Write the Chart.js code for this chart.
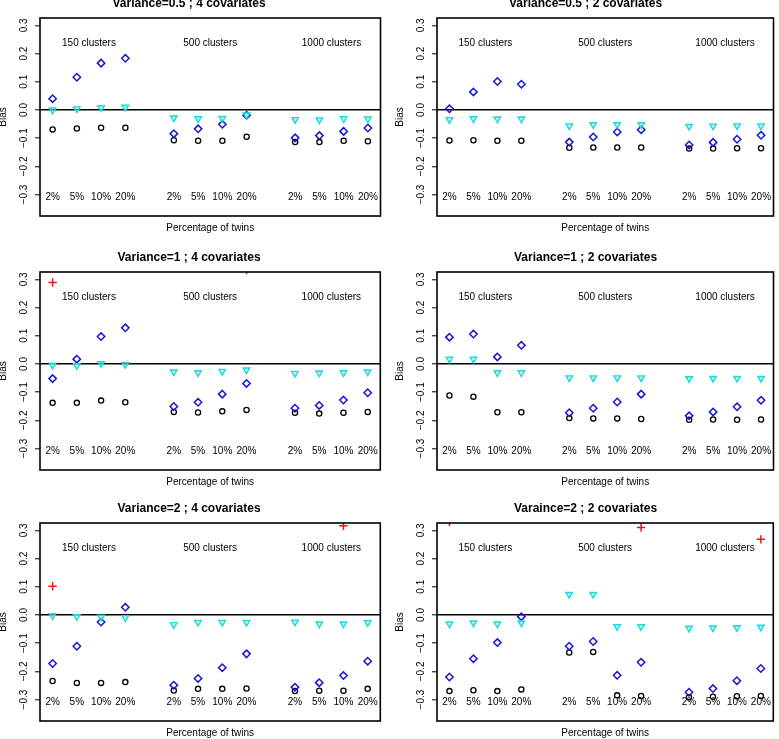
<!DOCTYPE html>
<html>
<head>
<meta charset="utf-8">
<script src="https://cdn.jsdelivr.net/npm/chart.js@4.4.1/dist/chart.umd.min.js"></script>
<style>
  html, body { margin: 0; padding: 0; background: #fff; overflow: hidden; }
  body { width: 779px; height: 739px; position: relative; }
  .panel { position: absolute; }
</style>
</head>
<body>
<div id="wrap"></div>
<script>
// x positions: 3 groups of 4 (150 / 500 / 1000 clusters)
var xPos = [1, 2, 3, 4, 6, 7, 8, 9, 11, 12, 13, 14];
var twinLabels = ['2%', '5%', '10%', '20%', '2%', '5%', '10%', '20%', '2%', '5%', '10%', '20%'];
var clusterLabels = ['150 clusters', '500 clusters', '1000 clusters'];
var clusterX = [2.5, 7.5, 12.5];
var yTickValues = [-0.3, -0.2, -0.1, 0, 0.1, 0.2, 0.3];

var panelTitles = [
    'Variance=0.5 ; 4 covariates', 'Variance=0.5 ; 2 covariates',
    'Variance=1 ; 4 covariates', 'Variance=1 ; 2 covariates',
    'Variance=2 ; 4 covariates', 'Varaince=2 ; 2 covariates'
];

// Variance=0.5 ; 4 covariates
var circlesA = [-0.069, -0.066, -0.063, -0.063, -0.107, -0.109, -0.109, -0.095, -0.114, -0.114, -0.109, -0.111];
var diamondsA = [0.040, 0.116, 0.166, 0.183, -0.084, -0.067, -0.051, -0.019, -0.099, -0.091, -0.076, -0.064];
var trianglesA = [0.000, 0.004, 0.008, 0.010, -0.028, -0.031, -0.030, -0.017, -0.034, -0.035, -0.031, -0.032];
var crossesA = [null, null, null, null, null, null, null, null, null, null, null, null];

// Variance=0.5 ; 2 covariates
var circlesB = [-0.108, -0.107, -0.109, -0.109, -0.134, -0.133, -0.133, -0.133, -0.137, -0.137, -0.136, -0.136];
var diamondsB = [0.004, 0.064, 0.101, 0.091, -0.114, -0.096, -0.078, -0.070, -0.124, -0.115, -0.104, -0.090];
var trianglesB = [-0.034, -0.031, -0.032, -0.032, -0.056, -0.052, -0.052, -0.052, -0.058, -0.057, -0.056, -0.056];
var crossesB = [null, null, null, null, null, null, null, null, null, null, null, null];

// Variance=1 ; 4 covariates
var circlesC = [-0.138, -0.138, -0.130, -0.136, -0.170, -0.172, -0.168, -0.163, -0.173, -0.176, -0.173, -0.170];
var diamondsC = [-0.052, 0.017, 0.097, 0.128, -0.151, -0.136, -0.107, -0.069, -0.157, -0.147, -0.128, -0.102];
var trianglesC = [-0.004, -0.006, 0.001, -0.001, -0.028, -0.031, -0.026, -0.021, -0.033, -0.032, -0.031, -0.028];
var crossesC = [0.289, null, null, null, null, null, null, 0.333, null, null, null, null];

// Variance=1 ; 2 covariates
var circlesD = [-0.112, -0.116, -0.171, -0.171, -0.192, -0.193, -0.193, -0.195, -0.198, -0.197, -0.198, -0.197];
var diamondsD = [0.095, 0.106, 0.025, 0.066, -0.173, -0.157, -0.135, -0.107, -0.184, -0.170, -0.152, -0.129];
var trianglesD = [0.017, 0.017, -0.031, -0.031, -0.049, -0.049, -0.049, -0.049, -0.052, -0.051, -0.051, -0.051];
var crossesD = [null, null, null, null, null, null, null, null, null, null, null, null];

// Variance=2 ; 4 covariates
var circlesE = [-0.234, -0.241, -0.241, -0.238, -0.268, -0.262, -0.262, -0.261, -0.270, -0.269, -0.269, -0.262];
var diamondsE = [-0.172, -0.111, -0.025, 0.027, -0.249, -0.225, -0.187, -0.138, -0.256, -0.240, -0.215, -0.164];
var trianglesE = [-0.002, -0.006, -0.008, -0.009, -0.034, -0.026, -0.026, -0.026, -0.025, -0.032, -0.032, -0.027];
var crossesE = [0.102, null, null, null, null, null, null, null, null, null, 0.316, null];

// Varaince=2 ; 2 covariates
var circlesF = [-0.270, -0.267, -0.270, -0.264, -0.133, -0.131, -0.285, -0.287, -0.292, -0.290, -0.288, -0.287];
var diamondsF = [-0.220, -0.155, -0.098, -0.006, -0.111, -0.094, -0.214, -0.168, -0.274, -0.261, -0.233, -0.190];
var trianglesF = [-0.032, -0.028, -0.032, -0.028, 0.073, 0.073, -0.041, -0.041, -0.047, -0.046, -0.045, -0.043];
var crossesF = [0.330, null, null, null, null, null, null, 0.310, null, null, null, 0.268];

var panelSeries = [
    [circlesA, diamondsA, trianglesA, crossesA],
    [circlesB, diamondsB, trianglesB, crossesB],
    [circlesC, diamondsC, trianglesC, crossesC],
    [circlesD, diamondsD, trianglesD, crossesD],
    [circlesE, diamondsE, trianglesE, crossesE],
    [circlesF, diamondsF, trianglesF, crossesF]
];

var FONT = "'Liberation Sans', Arial, Helvetica, sans-serif";

function toPoints(arr) {
    var pts = [];
    for (var i = 0; i < arr.length; i++) {
        if (arr[i] !== null) pts.push({x: xPos[i], y: arr[i]});
    }
    return pts;
}

function fmtTick(v) {
    var s = Math.abs(v).toFixed(1);
    return v < -1e-9 ? '\u2212' + s : s;
}

// box round the plot region + labels written inside it
var panelText = {
    id: 'panelText',
    afterDatasetsDraw: function(chart) {
        var ctx = chart.ctx, xs = chart.scales.x, ys = chart.scales.y;
        ctx.save();
        ctx.fillStyle = '#000';
        ctx.font = '10px ' + FONT;
        ctx.textAlign = 'center';
        ctx.textBaseline = 'middle';
        for (var i = 0; i < xPos.length; i++) {
            ctx.fillText(twinLabels[i], xs.getPixelForValue(xPos[i]), ys.getPixelForValue(-0.31));
        }
        for (var j = 0; j < clusterLabels.length; j++) {
            ctx.fillText(clusterLabels[j], xs.getPixelForValue(clusterX[j]), ys.getPixelForValue(0.237));
        }
        var a = chart.chartArea;
        ctx.strokeStyle = '#000';
        ctx.lineWidth = 1.6;
        ctx.strokeRect(a.left, a.top, a.right - a.left, a.bottom - a.top);
        ctx.restore();
    }
};

var colLeft = [40, 437];
var colWidth = [342, 341];
var colPadRight = [4, 1];
var rowTop = [18, 272, 523];
var BOX_H = 198;
var Y_AXIS_W = 44;
var TITLE_BLOCK = 22;   // 12px * 1.2 + 7.6 padding
var X_AXIS_H = 20;

var wrap = document.getElementById('wrap');

for (var p = 0; p < 6; p++) {
    var col = p % 2, row = Math.floor(p / 2);
    var div = document.createElement('div');
    div.className = 'panel';
    var w = Y_AXIS_W + colWidth[col] + colPadRight[col];
    var h = TITLE_BLOCK + BOX_H + X_AXIS_H;
    div.style.left = (colLeft[col] - Y_AXIS_W) + 'px';
    div.style.top = (rowTop[row] - TITLE_BLOCK) + 'px';
    var canvas = document.createElement('canvas');
    canvas.width = w;
    canvas.height = h;
    div.appendChild(canvas);
    wrap.appendChild(div);

    var s = panelSeries[p];
    new Chart(canvas, {
        type: 'scatter',
        data: {
            datasets: [
                {data: toPoints(s[0]), pointStyle: 'circle', pointRadius: 2.6, borderWidth: 1.3,
                 borderColor: '#000', backgroundColor: 'rgba(0,0,0,0)', order: 4},
                {data: toPoints(s[1]), pointStyle: 'rectRot', pointRadius: 3.7, borderWidth: 1.5,
                 borderColor: '#1818d2', backgroundColor: 'rgba(0,0,0,0)', order: 3},
                {data: toPoints(s[2]), pointStyle: 'triangle', rotation: 180, pointRadius: 3.8, borderWidth: 1.4,
                 borderColor: '#1fd9dc', backgroundColor: 'rgba(130,235,235,0.55)', order: 2},
                {data: toPoints(s[3]), pointStyle: 'cross', pointRadius: 4.2, borderWidth: 1.5,
                 borderColor: '#ee1515', backgroundColor: '#ee1515', order: 1}
            ]
        },
        options: {
            responsive: false,
            animation: false,
            devicePixelRatio: 1,
            clip: 0,
            layout: {padding: {left: 0, right: colPadRight[col], top: 0, bottom: 0}},
            plugins: {
                legend: {display: false},
                tooltip: {enabled: false},
                title: {
                    display: true,
                    text: panelTitles[p],
                    color: '#000',
                    font: {family: FONT, size: 12, weight: 'bold', lineHeight: 1.2},
                    padding: {top: 0, bottom: 7.6}
                }
            },
            scales: {
                x: {
                    type: 'linear',
                    min: 0.48,
                    max: 14.52,
                    ticks: {display: false},
                    grid: {display: false},
                    border: {display: false},
                    title: {
                        display: true,
                        text: 'Percentage of twins',
                        color: '#000',
                        font: {family: FONT, size: 10, lineHeight: 1.2},
                        padding: {top: 0, bottom: 2}
                    },
                    afterFit: function(scale) { scale.height = X_AXIS_H; }
                },
                y: {
                    type: 'linear',
                    min: -0.376,
                    max: 0.326,
                    afterBuildTicks: function(scale) {
                        scale.ticks = yTickValues.map(function(v) { return {value: v}; });
                    },
                    ticks: {
                        minRotation: 90,
                        maxRotation: 90,
                        crossAlign: 'center',
                        padding: 1,
                        color: '#000',
                        font: {family: FONT, size: 10},
                        callback: function(v) { return fmtTick(v); }
                    },
                    grid: {
                        drawOnChartArea: true,
                        drawTicks: true,
                        tickLength: 5,
                        tickColor: '#000',
                        tickWidth: 1,
                        lineWidth: 1.6,
                        color: function(c) {
                            return (c.tick && Math.abs(c.tick.value) < 1e-9) ? '#000' : 'rgba(0,0,0,0)';
                        }
                    },
                    border: {display: false},
                    title: {
                        display: true,
                        text: 'Bias',
                        color: '#000',
                        font: {family: FONT, size: 10, lineHeight: 1.2},
                        padding: {top: 1.5, bottom: 0}
                    },
                    afterFit: function(scale) { scale.width = Y_AXIS_W; }
                }
            }
        },
        plugins: [panelText]
    });
}
</script>
</body>
</html>
